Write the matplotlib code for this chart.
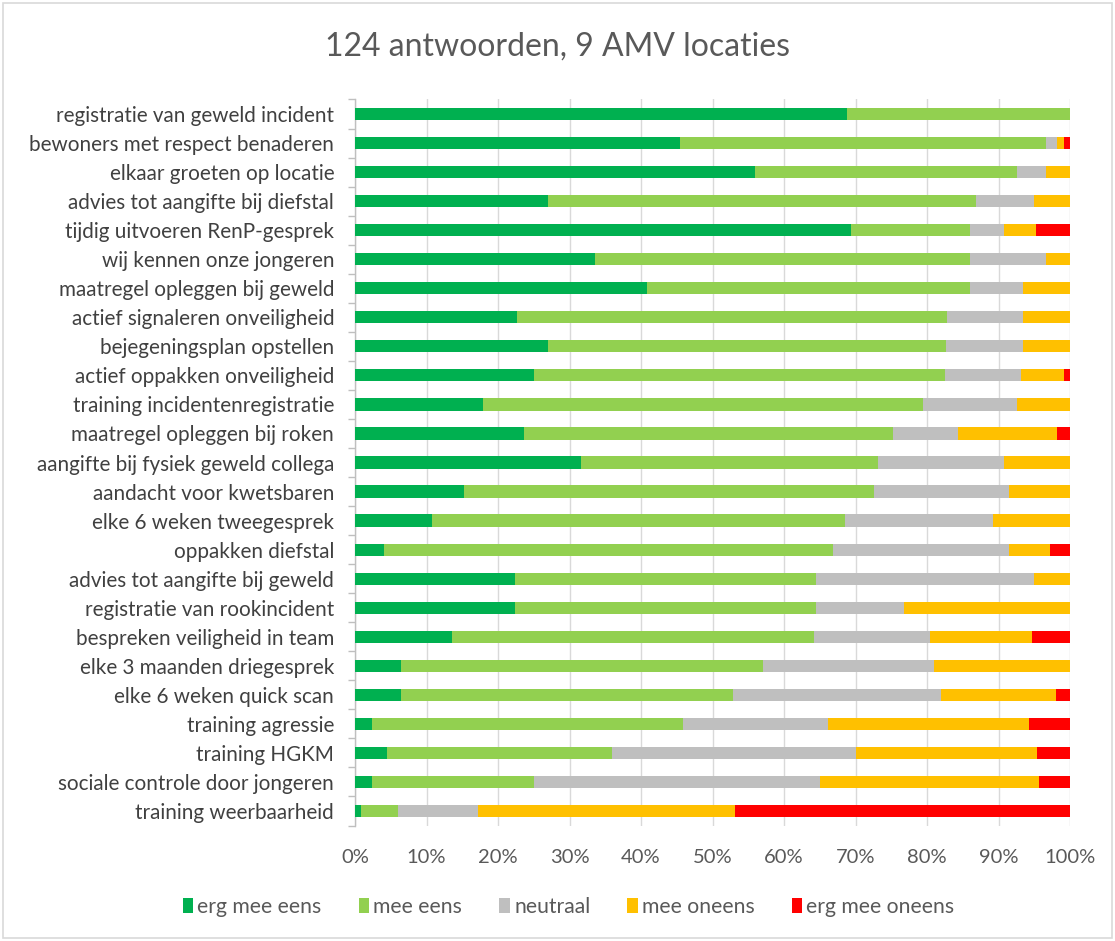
import matplotlib
matplotlib.use("Agg")
import matplotlib.pyplot as plt
import numpy as np
from matplotlib.patches import Rectangle

categories = [
    "registratie van geweld incident",
    "bewoners met respect benaderen",
    "elkaar groeten op locatie",
    "advies tot aangifte bij diefstal",
    "tijdig uitvoeren RenP-gesprek",
    "wij kennen onze jongeren",
    "maatregel opleggen bij geweld",
    "actief signaleren onveiligheid",
    "bejegeningsplan opstellen",
    "actief oppakken onveiligheid",
    "training incidentenregistratie",
    "maatregel opleggen bij roken",
    "aangifte bij fysiek geweld collega",
    "aandacht voor kwetsbaren",
    "elke 6 weken tweegesprek",
    "oppakken diefstal",
    "advies tot aangifte bij geweld",
    "registratie van rookincident",
    "bespreken veiligheid in team",
    "elke 3 maanden driegesprek",
    "elke 6 weken quick scan",
    "training agressie",
    "training HGKM",
    "sociale controle door jongeren",
    "training weerbaarheid",
]

erg_mee_eens = [68.8, 45.4, 56.0, 27.0, 69.3, 33.6, 40.9, 22.6, 27.0, 25.0, 17.9, 23.7, 31.6,
                15.2, 10.7, 4.1, 22.4, 22.4, 13.5, 6.5, 6.5, 2.4, 4.5, 2.4, 0.8]
mee_eens = [31.2, 51.2, 36.6, 59.9, 16.7, 52.4, 45.1, 60.2, 55.6, 57.5, 61.5, 51.6, 41.6,
            57.4, 57.8, 62.7, 42.0, 42.0, 50.7, 50.5, 46.3, 43.5, 31.4, 22.6, 5.2]
neutraal = [0.0, 1.6, 4.0, 8.0, 4.8, 10.6, 7.4, 10.6, 10.8, 10.7, 13.2, 9.0, 17.5,
            18.8, 20.7, 24.6, 30.5, 12.4, 16.2, 24.0, 29.1, 20.3, 34.2, 40.0, 11.2]
mee_oneens = [0.0, 0.9, 3.4, 5.1, 4.5, 3.4, 6.6, 6.6, 6.6, 5.9, 7.4, 13.9, 9.3,
              8.6, 10.8, 5.8, 5.1, 23.2, 14.3, 19.0, 16.1, 28.1, 25.3, 30.7, 36.0]
erg_mee_oneens = [0.0, 0.9, 0.0, 0.0, 4.7, 0.0, 0.0, 0.0, 0.0, 0.9, 0.0, 1.8, 0.0,
                  0.0, 0.0, 2.8, 0.0, 0.0, 5.3, 0.0, 2.0, 5.7, 4.6, 4.3, 46.8]

series_names = ["erg mee eens", "mee eens", "neutraal", "mee oneens", "erg mee oneens"]
colors = ["#00B050", "#92D050", "#BFBFBF", "#FFC000", "#FF0000"]
xticks = [0, 10, 20, 30, 40, 50, 60, 70, 80, 90, 100]
title = "124 antwoorden, 9 AMV locaties"

plt.rcParams['font.family'] = ['Lato', 'DejaVu Sans']
text_color = "#595959"

fig = plt.figure(figsize=(11.15, 9.41), dpi=100)
fig.patch.set_facecolor("white")
fig.patches.append(Rectangle((0.003, 0.003), 0.994, 0.994, transform=fig.transFigure,
                             fill=False, edgecolor="#D9D9D9", linewidth=1.2))

ax = fig.add_axes([0.3184, 0.1227, 0.6413, 0.7716])

y = np.arange(len(categories))
data = [erg_mee_eens, mee_eens, neutraal, mee_oneens, erg_mee_oneens]
left = np.zeros(len(categories))
for vals, name, col in zip(data, series_names, colors):
    v = np.array(vals, dtype=float)
    ax.barh(y, v, left=left, height=0.42, color=col, label=name, zorder=3)
    left += v

ax.set_xlim(0, 100)
ax.set_ylim(len(categories) - 0.5, -0.5)
ax.set_yticks(y)
ax.set_yticklabels(categories, fontsize=14.9, color="#404040")
ax.set_yticks(np.arange(-0.5, len(categories), 1.0), minor=True)
ax.tick_params(axis='y', which='major', length=0, pad=15)
ax.tick_params(axis='y', which='minor', length=5, color="#BFBFBF", width=1)

ax.set_xticks(xticks)
ax.set_xticklabels([f"{t}%" for t in xticks], fontsize=14.5, color=text_color)
ax.tick_params(axis='x', length=0, pad=17)
ax.grid(axis='x', color="#D9D9D9", linewidth=1, zorder=0)

for s in ["top", "right", "bottom"]:
    ax.spines[s].set_visible(False)
ax.spines["left"].set_color("#BFBFBF")
ax.spines["left"].set_linewidth(1)

fig.text(0.5, 1 - 47 / 941, title, ha='center', va='center', fontsize=23, color=text_color)

handles, labels = ax.get_legend_handles_labels()
leg = fig.legend(handles, labels, loc='center', bbox_to_anchor=(0.51, 1 - 907 / 941),
                 ncol=5, frameon=False, fontsize=15.2, handlelength=0.5, handleheight=0.75,
                 handletextpad=0.2, columnspacing=1.75)
for t in leg.get_texts():
    t.set_color(text_color)

fig.savefig("out.png", dpi=100, facecolor="white")
